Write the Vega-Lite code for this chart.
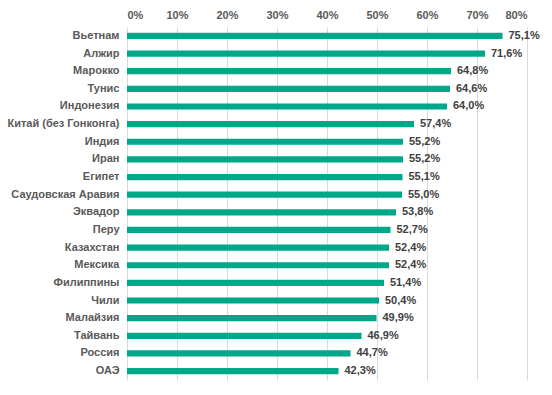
{
  "$schema": "https://vega.github.io/schema/vega-lite/v6.json",
  "width": 400,
  "height": 353,
  "autosize": {"type": "none"},
  "padding": {"left": 127, "top": 27, "right": 25, "bottom": 15},
  "background": "white",
  "config": {
    "locale": {"number": {"decimal": ",", "thousands": " ", "grouping": [3], "currency": ["", " ₽"]}},
    "view": {"stroke": null},
    "font": "Liberation Sans"
  },
  "data": {
    "values": [
      {"country": "Вьетнам", "value": 0.751},
      {"country": "Алжир", "value": 0.716},
      {"country": "Марокко", "value": 0.648},
      {"country": "Тунис", "value": 0.646},
      {"country": "Индонезия", "value": 0.640},
      {"country": "Китай (без Гонконга)", "value": 0.574},
      {"country": "Индия", "value": 0.552},
      {"country": "Иран", "value": 0.552},
      {"country": "Египет", "value": 0.551},
      {"country": "Саудовская Аравия", "value": 0.550},
      {"country": "Эквадор", "value": 0.538},
      {"country": "Перу", "value": 0.527},
      {"country": "Казахстан", "value": 0.524},
      {"country": "Мексика", "value": 0.524},
      {"country": "Филиппины", "value": 0.514},
      {"country": "Чили", "value": 0.504},
      {"country": "Малайзия", "value": 0.499},
      {"country": "Тайвань", "value": 0.469},
      {"country": "Россия", "value": 0.447},
      {"country": "ОАЭ", "value": 0.423}
    ]
  },
  "encoding": {
    "y": {
      "field": "country", "type": "nominal", "sort": null, "title": null,
      "scale": {"paddingInner": 0.65, "paddingOuter": 0.33},
      "axis": {"ticks": false, "domain": false, "labelFontWeight": "bold", "labelColor": "#595959", "labelFontSize": 11, "labelPadding": 8, "labelFont": "Liberation Sans"}
    },
    "x": {
      "field": "value", "type": "quantitative", "title": null,
      "scale": {"domain": [0, 0.8], "nice": false},
      "axis": {"orient": "top", "format": ".0%", "values": [0, 0.1, 0.2, 0.3, 0.4, 0.5, 0.6, 0.7, 0.8], "ticks": false, "domain": false, "grid": true, "gridColor": "#d9d9d9", "gridWidth": 1, "labelFontWeight": "bold", "labelColor": "#595959", "labelFontSize": 11, "labelPadding": 7, "labelFont": "Liberation Sans"}
    }
  },
  "layer": [
    {"mark": {"type": "bar", "color": "#00a88a"}},
    {
      "mark": {"type": "text", "align": "left", "baseline": "middle", "dx": 6, "fontWeight": "bold", "fontSize": 11, "color": "#404040", "font": "Liberation Sans"},
      "encoding": {"text": {"field": "value", "type": "quantitative", "format": ".1%"}}
    }
  ]
}
